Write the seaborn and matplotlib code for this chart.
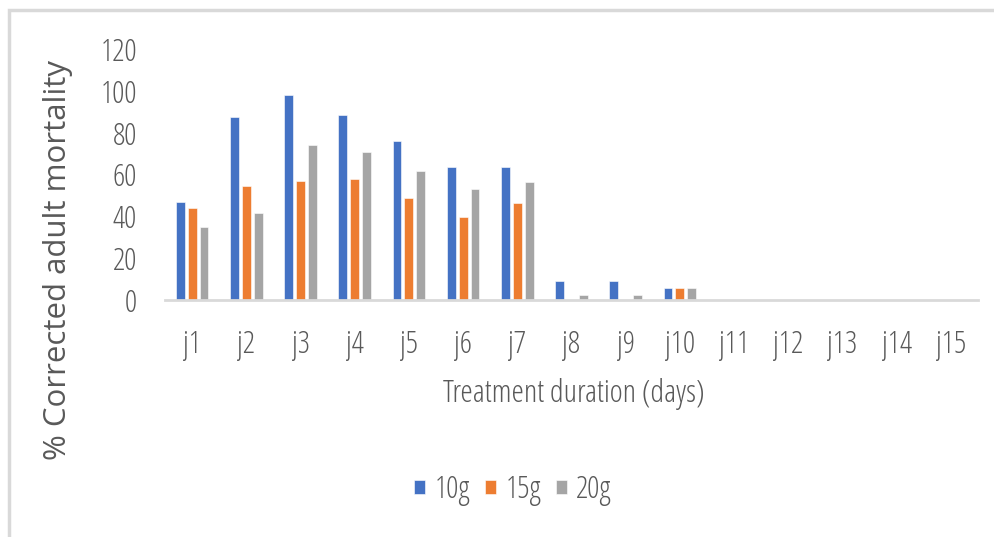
import numpy as np
import pandas as pd
import matplotlib
matplotlib.use("Agg")
import matplotlib.pyplot as plt
from matplotlib.patches import Rectangle
import seaborn as sns

# Daily corrected adult mortality (%) for three doses
days = ["j1", "j2", "j3", "j4", "j5", "j6", "j7", "j8",
        "j9", "j10", "j11", "j12", "j13", "j14", "j15"]
doses = ["10g", "15g", "20g"]
mort_10g = [47.0, 87.6, 98.2, 88.4, 75.9, 63.7, 63.7, 9.2, 9.2, 5.9, 0, 0, 0, 0, 0]
mort_15g = [43.8, 54.6, 57.0, 57.8, 48.7, 39.5, 46.3, 0, 0, 5.9, 0, 0, 0, 0, 0]
mort_20g = [34.7, 41.4, 74.3, 70.9, 61.9, 53.0, 56.2, 2.5, 2.5, 5.9, 0, 0, 0, 0, 0]
y_ticks = [0, 20, 40, 60, 80, 100, 120]

colors = ["#4472C4", "#ED7D31", "#A5A5A5"]
text_gray = "#595959"

df = pd.DataFrame({
    "day": days * 3,
    "dose": [d for d in doses for _ in days],
    "mortality": mort_10g + mort_15g + mort_20g,
})

sns.set_theme(style="white")
plt.rcParams["font.family"] = ["Open Sans", "DejaVu Sans"]
plt.rcParams["font.stretch"] = "condensed"
plt.rcParams["font.weight"] = "light"

fig = plt.figure(figsize=(9.95, 5.37), dpi=100)
ax = fig.add_axes([165 / 995, 1 - 300 / 537, (978 - 165) / 995, 251 / 537])

sns.barplot(data=df, x="day", y="mortality", hue="dose", order=days,
            hue_order=doses, palette=colors, width=0.66, gap=0.26,
            edgecolor="white", linewidth=0.4, saturation=1, ax=ax,
            legend=True)

ax.set_ylim(0, 120)
ax.set_xlim(-0.5, len(days) - 0.5)
ax.set_yticks(y_ticks)
ax.set_yticklabels([str(v) for v in y_ticks])
ax.tick_params(axis="y", length=0, pad=20, labelsize=22, labelcolor=text_gray)
ax.tick_params(axis="x", length=0, pad=21, labelsize=22, labelcolor=text_gray)
for side in ["top", "right", "left"]:
    ax.spines[side].set_visible(False)
ax.spines["bottom"].set_color("#D9D9D9")
ax.spines["bottom"].set_linewidth(2)
ax.set_xlabel("")
ax.set_ylabel("")

fig.text(574 / 995, 1 - 394 / 537, "Treatment duration (days)", ha="center",
         va="center", fontsize=22.5, color=text_gray)
fig.text(58 / 995, 1 - 260 / 537, "% Corrected adult mortality",
         rotation=90, ha="center", va="center", fontsize=22.5,
         color=text_gray, fontstretch="normal", fontweight="normal")

handles, labels = ax.get_legend_handles_labels()
ax.legend_.remove()
fig.legend(handles, labels, loc="center", bbox_to_anchor=(513 / 995, 1 - 490 / 537),
           ncol=3, frameon=False, fontsize=22, labelcolor=text_gray,
           handlelength=0.36, handleheight=0.28, handletextpad=0.3,
           columnspacing=0.5)

# light chart-area frame
fig.patches.append(Rectangle((9 / 995, -0.05), 1.2, 1.05 - 10 / 537,
                             transform=fig.transFigure, fill=False,
                             edgecolor="#D9D9D9", linewidth=2.5))

fig.savefig("out.png", dpi=100, facecolor="white")
